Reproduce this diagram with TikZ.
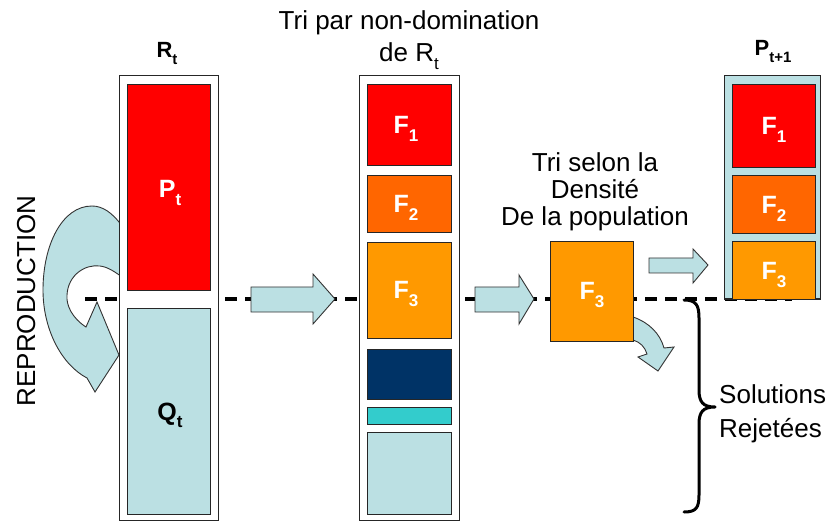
\documentclass[tikz,border=0pt]{standalone}
\usepackage{fontspec}
\setmainfont{Liberation Sans}
\usetikzlibrary{fit}
\definecolor{lb}{RGB}{187,224,227}
\definecolor{fred}{RGB}{255,0,0}
\definecolor{forange}{RGB}{255,102,0}
\definecolor{fyellow}{RGB}{255,153,0}
\definecolor{fnavy}{RGB}{0,51,102}
\definecolor{fteal}{RGB}{51,204,204}
\newcommand\sbs[1]{\raisebox{-0.3em}{\fontsize{17bp}{17bp}\selectfont #1}}
\newcommand\sbsm[1]{\raisebox{-0.3em}{\fontsize{15bp}{15bp}\selectfont #1}}
\begin{document}
\begin{tikzpicture}[x=1bp,y=-1bp,
  box/.style={draw=black!85, line width=0.9bp, inner sep=0pt},
  col/.style={draw=black!85, line width=1bp, fill=white, inner sep=0pt},
  blk/.style={fill=lb, draw=black!80, line width=0.9bp, line join=miter},
  lbl/.style={font=\fontsize{26bp}{31bp}\selectfont, anchor=base, inner sep=0pt},
  hlbl/.style={font=\bfseries\fontsize{22bp}{26bp}\selectfont, anchor=base, inner sep=0pt},
  flbl/.style={text=white, font=\bfseries\fontsize{25bp}{30bp}\selectfont, anchor=base, inner sep=0pt},
  cut/.style={line width=3bp, dash pattern=on 12bp off 8bp},
  brc/.style={line width=3bp, line cap=round, line join=round}]
\useasboundingbox (0,0) rectangle (830,521);
% dashed cut line
\coordinate (dl) at (85,299);
\coordinate (dr) at (792,299);
\draw[cut] (dl) -- (dr);
% reproduction curved arrow
\draw[blk] (122,226) .. controls (112,212) and (102,206) .. (92,206)
  .. controls (62,206) and (43,245) .. (43,290)
  .. controls (43,330) and (62,365) .. (87,378)
  -- (95,392) -- (119,355) -- (97,302) -- (86,327)
  .. controls (72,318) and (66,305) .. (67,295)
  .. controls (68,275) and (85,264) .. (100,266)
  .. controls (108,267) and (115,272) .. (122,277) -- cycle;
% column R_t
\node[col, fit={(119,76) (218,520)}] (Rt) {};
\node[box, fill=fred, fit={(127,84) (210,290)}] (Pt) {};
\node[box, fill=lb, fit={(127,308) (210,514)}] (Qt) {};
\node[flbl] (lPt) at (170,198) {P\sbs{t}};
\node[flbl, text=black] (lQt) at (170,420) {Q\sbs{t}};
\node[hlbl] (lRt) at (167,58) {R\sbsm{t}};
% column sorted
\node[col, fit={(359,76) (459,520)}] (Mid) {};
\node[box, fill=fred, fit={(367,84) (451,165)}] (M1) {};
\node[box, fill=forange, fit={(367,175) (451,232)}] (M2) {};
\node[box, fill=fyellow, fit={(367,242) (451,338)}] (M3) {};
\node[box, fill=fnavy, fit={(367,349) (451,399)}] (M4) {};
\node[box, fill=fteal, fit={(367,407) (451,424)}] (M5) {};
\node[box, fill=lb, fit={(367,432) (451,514)}] (M6) {};
\node[flbl] (lM1) at (406,134) {F\sbs{1}};
\node[flbl] (lM2) at (406,213) {F\sbs{2}};
\node[flbl] (lM3) at (406,299) {F\sbs{3}};
\node[lbl] (t1) at (409,30) {Tri par non-domination};
\node[lbl] (t2) at (409,62) {de R\sbs{t}};
% block arrows
\draw[blk] (251,287) -- (313,287) -- (313,274) -- (335,299) -- (313,324) -- (313,312) -- (251,312) -- cycle;
\draw[blk] (475,287) -- (519,287) -- (519,275) -- (534,299) -- (519,324) -- (519,312) -- (475,312) -- cycle;
\draw[blk] (649,258) -- (693,258) -- (693,249) -- (708,265) -- (693,283) -- (693,273) -- (649,273) -- cycle;
% curved arrow from F3
\draw[blk] (625,317) -- (633,317) .. controls (648,322) and (660,333) .. (664,348)
  -- (674,347) -- (658,371) -- (638,357) -- (647,354)
  .. controls (645,347) and (640,342) .. (633,340) -- (625,340) -- cycle;
% density box
\node[box, fill=fyellow, fit={(550,241) (633,341)}] (D3) {};
\node[flbl] (lD3) at (592,300) {F\sbs{3}};
\node[lbl] (d1) at (595,172) {Tri selon la};
\node[lbl] (d2) at (595,199) {Densité};
\node[lbl] (d3) at (595,226) {De la population};
% column P_{t+1}
\node[col, fill=lb, fit={(724,76) (820,299)}] (Pn) {};
\node[box, fill=fred, fit={(732,84) (815,167)}] (N1) {};
\node[box, fill=forange, fit={(732,175) (815,233)}] (N2) {};
\node[box, fill=fyellow, fit={(732,241) (815,299)}] (N3) {};
\node[flbl] (lN1) at (774,135) {F\sbs{1}};
\node[flbl] (lN2) at (774,214) {F\sbs{2}};
\node[flbl] (lN3) at (774,280) {F\sbs{3}};
\node[hlbl] (lPn) at (773,56) {P\sbsm{t+1}};
% brace
\draw[brc] (684,300) .. controls (696,300) and (699,305) .. (699,318) -- (699,390)
  .. controls (699,402) and (703,407) .. (715,407)
  .. controls (703,407) and (699,412) .. (699,424) -- (699,495)
  .. controls (699,508) and (696,512) .. (684,512);
\node[lbl, anchor=base west] (s1) at (719,403) {Solutions};
\node[lbl, anchor=base west] (s2) at (719,437) {Rejetées};
% reproduction text
\node[lbl, rotate=90] (rep) at (35,301) {REPRODUCTION};
\end{tikzpicture}
\end{document}
